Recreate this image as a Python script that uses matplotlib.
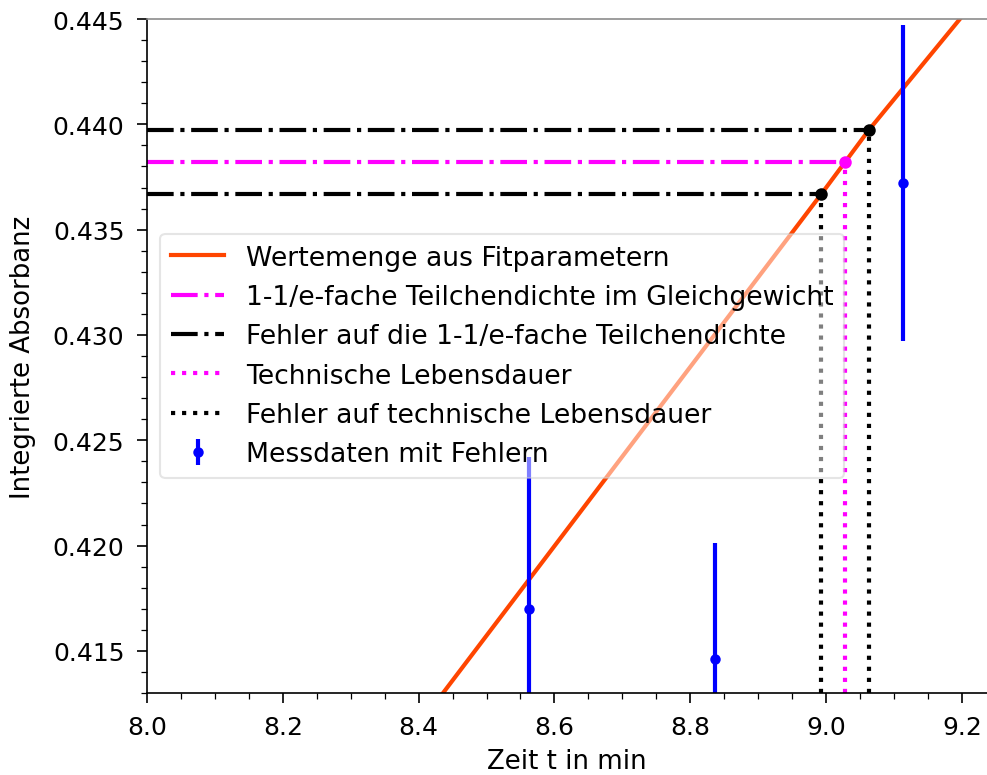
import matplotlib.pyplot as plt
from matplotlib.ticker import MultipleLocator

# Messdaten
t_mess = [8.562, 8.837, 9.113]
A_mess = [0.4170, 0.4146, 0.4372]
A_err = [0.0072, 0.0055, 0.0075]

# Fitkurve
t_fit = [8.40, 8.436, 8.993, 9.028, 9.063, 9.197, 9.26]
A_fit = [0.41147, 0.4130, 0.43669, 0.43821, 0.43973, 0.4450, 0.44745]

# 1-1/e-fache Teilchendichte und Fehler
A_tau = 0.43821
A_tau_lo = 0.43669
A_tau_hi = 0.43973
t_tau = 9.028
t_tau_lo = 8.993
t_tau_hi = 9.063

xmin, xmax = 8.0, 9.237
ymin, ymax = 0.413, 0.445

plt.rcParams['font.size'] = 12.5

fig = plt.figure(figsize=(6.58, 5.173), dpi=150)
ax = fig.add_axes([0.1489, 0.1057, 0.8511, 0.8685])

ax.plot(t_fit, A_fit, color='orangered', lw=2, label='Wertemenge aus Fitparametern')
ax.hlines(A_tau, xmin, t_tau, color='magenta', ls='-.', lw=2,
          label='1-1/e-fache Teilchendichte im Gleichgewicht')
ax.hlines([A_tau_lo, A_tau_hi], xmin, [t_tau_lo, t_tau_hi], color='black', ls='-.', lw=2,
          label='Fehler auf die 1-1/e-fache Teilchendichte')
ax.vlines(t_tau, ymin, A_tau, color='magenta', ls=':', lw=2, label='Technische Lebensdauer')
ax.vlines([t_tau_lo, t_tau_hi], ymin, [A_tau_lo, A_tau_hi], color='black', ls=':', lw=2,
          label='Fehler auf technische Lebensdauer')
ax.plot([t_tau_lo, t_tau_hi], [A_tau_lo, A_tau_hi], 'o', color='black', ms=5)
ax.plot([t_tau], [A_tau], 'o', color='magenta', ms=5)
ax.errorbar(t_mess, A_mess, yerr=A_err, fmt='o', color='blue', ms=4, lw=2,
            label='Messdaten mit Fehlern')

ax.set_xlim(xmin, xmax)
ax.set_ylim(ymin, ymax)
ax.xaxis.set_major_locator(MultipleLocator(0.2))
ax.xaxis.set_minor_locator(MultipleLocator(0.05))
ax.yaxis.set_major_locator(MultipleLocator(0.005))
ax.yaxis.set_minor_locator(MultipleLocator(0.001))
ax.tick_params(which='major', length=4.8, pad=6, labelsize=12)
ax.tick_params(which='minor', length=2.7)
ax.spines['right'].set_visible(False)
ax.spines['top'].set_color('0.55')

ax.set_xlabel('Zeit t in min', labelpad=4)
ax.set_ylabel('Integrierte Absorbanz', labelpad=8)
ax.legend(loc='center left', framealpha=0.5, fontsize=12.8)

fig.savefig('out.png', dpi=150)
